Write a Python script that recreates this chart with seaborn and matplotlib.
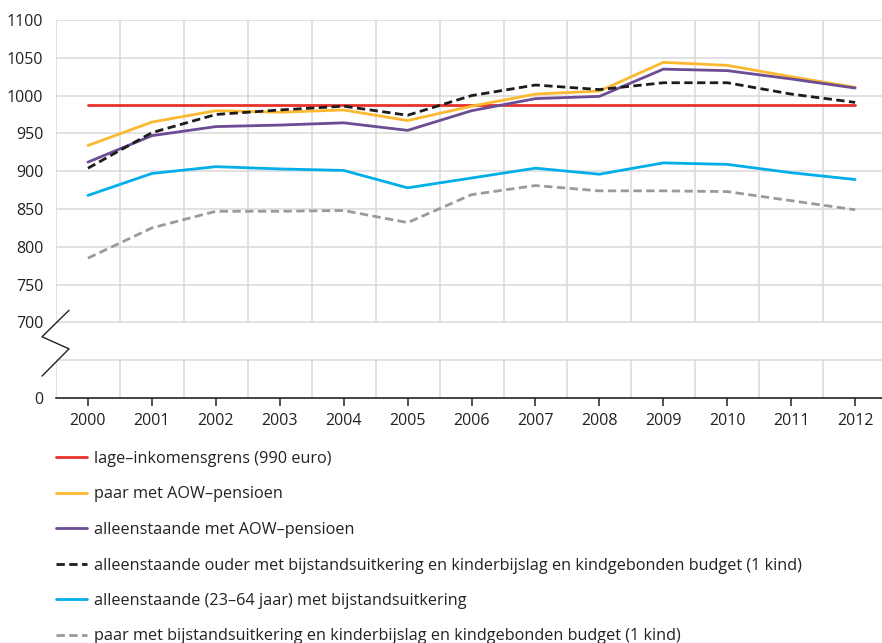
import numpy as np
import pandas as pd
import matplotlib
matplotlib.use("Agg")
import matplotlib.pyplot as plt
import matplotlib.transforms as mtransforms
import seaborn as sns


# ======================================================
# DATA
# ======================================================

years = [2000, 2001, 2002, 2003, 2004, 2005, 2006, 2007, 2008, 2009, 2010, 2011, 2012]

lage_inkomensgrens = [987, 987, 987, 987, 987, 987, 987, 987, 987, 987, 987, 987, 987]
paar_aow = [934, 965, 980, 978, 981, 967, 986, 1002, 1006, 1044, 1040, 1025, 1011]
alleenstaande_aow = [912, 947, 959, 961, 964, 954, 980, 996, 999, 1035, 1033, 1022, 1010]
alleenstaande_ouder = [904, 951, 975, 981, 986, 974, 1000, 1014, 1008, 1017, 1017, 1002, 991]
alleenstaande_bijstand = [868, 897, 906, 903, 901, 878, 891, 904, 896, 911, 909, 898, 889]
paar_bijstand = [785, 825, 847, 847, 848, 832, 869, 881, 874, 874, 873, 861, 849]

series_labels = [
    "lage\u2013inkomensgrens (990 euro)",
    "paar met AOW\u2013pensioen",
    "alleenstaande met AOW\u2013pensioen",
    "alleenstaande ouder met bijstandsuitkering en kinderbijslag en kindgebonden budget (1 kind)",
    "alleenstaande (23\u201364 jaar) met bijstandsuitkering",
    "paar met bijstandsuitkering en kinderbijslag en kindgebonden budget (1 kind)",
]

y_ticks = [600, 650, 700, 750, 800, 850, 900, 950, 1000, 1050, 1100]
y_tick_labels = ["0", "", "700", "750", "800", "850", "900", "950", "1000", "1050", "1100"]


# ======================================================
# STYLE
# ======================================================

sns.set_style("white")
plt.rcParams["font.family"] = ["Open Sans", "DejaVu Sans"]

colors = ["#e8312b", "#fbb830", "#6c4c94", "#1c1c1c", "#00aeea", "#9a9a9a"]
dashed = [False, False, False, True, False, True]
grid_color = "#d9d9d9"


# ======================================================
# PLOT
# ======================================================

fig = plt.figure(figsize=(8.82, 6.43), dpi=100)
ax = fig.add_axes([56 / 882, 1 - 398 / 643, 1 - 56 / 882, (398 - 20) / 643])

all_values = [lage_inkomensgrens, paar_aow, alleenstaande_aow,
              alleenstaande_ouder, alleenstaande_bijstand, paar_bijstand]

df = pd.DataFrame({
    "jaar": np.tile(years, len(all_values)),
    "euro": np.concatenate(all_values),
    "groep": np.repeat(series_labels, len(years)),
})

# grid (horizontal full width, vertical broken at the axis break)
for yv in y_ticks[1:]:
    ax.axhline(yv, color=grid_color, lw=1.1, zorder=0)
minor_x = [y - 0.5 for y in years]
ax.vlines(minor_x, 700, 1100, color=grid_color, lw=1.1, zorder=0)
ax.vlines(minor_x, 600, 650, color=grid_color, lw=1.1, zorder=0)

sns.lineplot(
    data=df, x="jaar", y="euro", hue="groep", style="groep",
    hue_order=series_labels, style_order=series_labels,
    palette=colors,
    dashes={lab: ((3, 1.6) if d else "") for lab, d in zip(series_labels, dashed)},
    linewidth=2.0, ax=ax, zorder=3,
)

ax.set_xlim(1999.5, 2012.42)
ax.set_ylim(600, 1100)
ax.set_xticks(years)
ax.set_yticks(y_ticks)
ax.set_yticklabels(y_tick_labels)
ax.set_xlabel("")
ax.set_ylabel("")

for side in ["top", "right", "left"]:
    ax.spines[side].set_visible(False)
ax.spines["bottom"].set_color("#222222")
ax.spines["bottom"].set_linewidth(1.2)
ax.tick_params(axis="x", length=6, width=1.1, color="#222222", pad=5,
               labelsize=11.5, labelcolor="#222222", bottom=True)
ax.tick_params(axis="y", length=0, pad=9, labelsize=11.5, labelcolor="#222222")

# axis break symbol
trans = mtransforms.blended_transform_factory(ax.transAxes, ax.transData)
bx = [(69 - 56) / 826, (42 - 56) / 826, (69 - 56) / 826, (42 - 56) / 826]
by = [716, 681, 665, 629]
ax.plot(bx, by, transform=trans, color="#222222", lw=1.0, clip_on=False, zorder=5)

# legend below the chart
handles, labels = ax.get_legend_handles_labels()
ax.get_legend().remove()
fig.legend(
    handles, labels,
    loc="upper left", bbox_to_anchor=(56 / 882, 1 - 451 / 643),
    ncol=1, frameon=False, fontsize=11.7,
    handlelength=1.9, handletextpad=0.45, labelspacing=1.2,
    borderaxespad=0, borderpad=0, labelcolor="#222222",
)

fig.savefig("out.png", dpi=100)
